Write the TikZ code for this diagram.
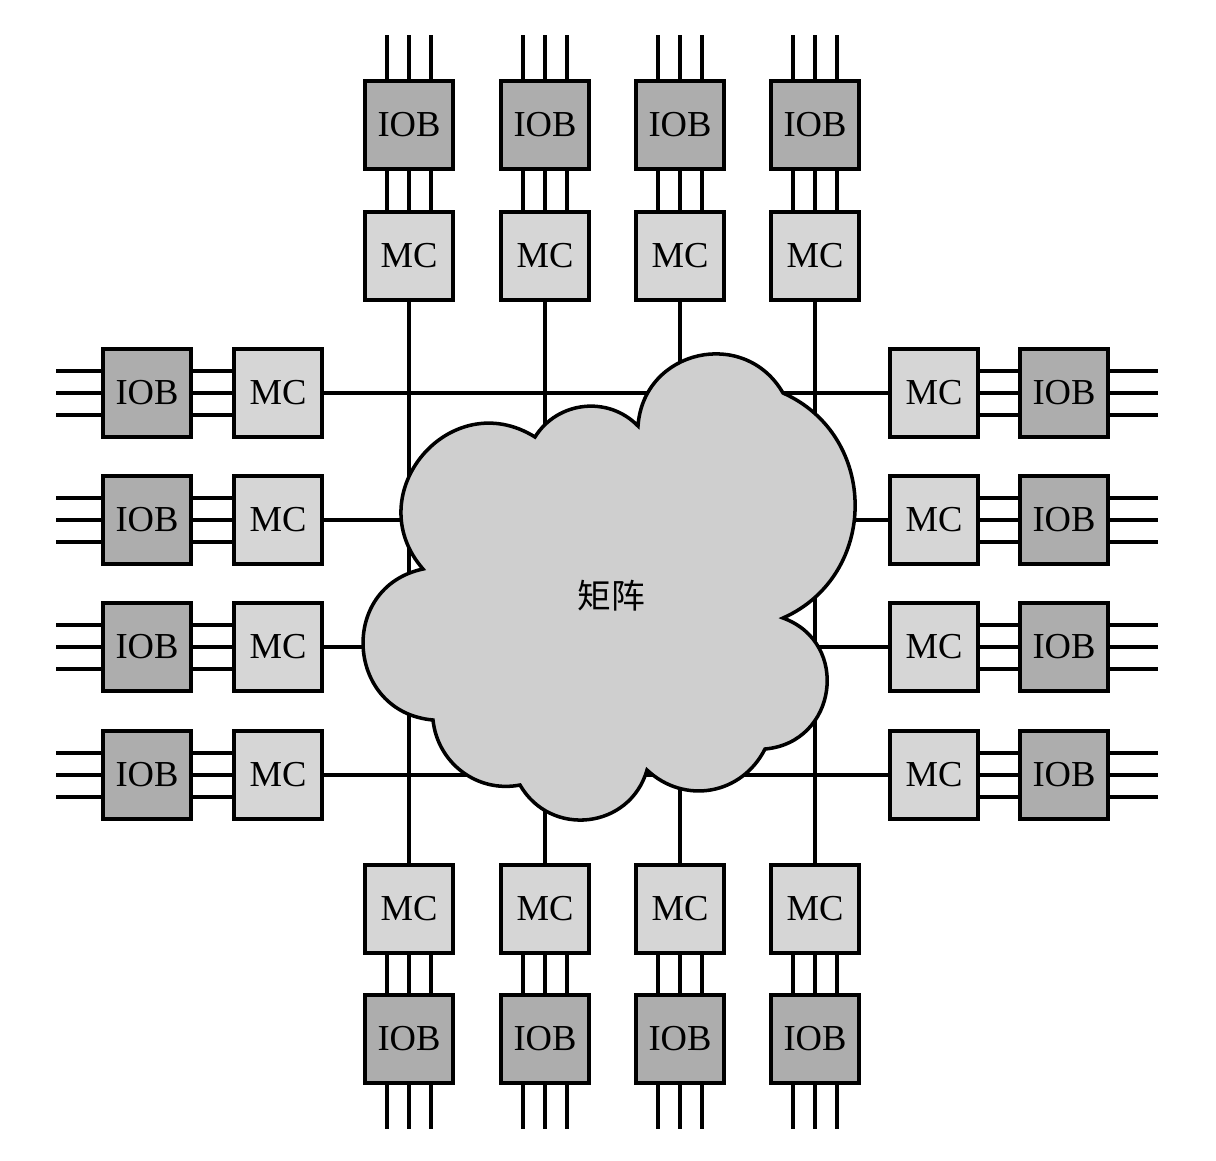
\documentclass[tikz,border=0pt]{standalone}
\usepackage{fontspec}
\setmainfont{Liberation Serif}
\newfontfamily\cjk{Noto Sans CJK SC}
\usetikzlibrary{positioning}
\usetikzlibrary{calc}

\definecolor{iobgray}{gray}{0.68}
\definecolor{mcgray}{gray}{0.84}
\definecolor{cloudgray}{gray}{0.81}

\tikzset{
  block/.style={draw, line width=2.8pt, minimum size=2.2cm, inner sep=0pt,
    font=\fontsize{26}{28}\selectfont},
  iob/.style={block, fill=iobgray},
  mc/.style={block, fill=mcgray},
  wire/.style={line width=2.2pt}
}

\begin{document}
\begin{tikzpicture}[x=0.025cm, y=-0.025cm]
        \useasboundingbox (0,0) rectangle (1216,1160);

        % Define the coordinates of the wire ends
        \coordinate (topend) at (0,35);
        \coordinate (botend) at (0,1129);
        \coordinate (leftend) at (56,0);
        \coordinate (rightend) at (1158,0);

        % Draw the blocks of the top and bottom columns
        \foreach \i/\x in {1/409, 2/545, 3/680, 4/815} {
          \node[iob] (ti\i) at (\x,125) {IOB};
          \node[mc] (tm\i) at (\x,256) {MC};
          \node[mc] (bm\i) at (\x,909) {MC};
          \node[iob] (bi\i) at (\x,1039) {IOB};
        }

        % Draw the blocks of the left and right rows
        \foreach \i/\y in {1/393, 2/520, 3/647, 4/775} {
          \node[iob] (li\i) at (147,\y) {IOB};
          \node[mc] (lm\i) at (278,\y) {MC};
          \node[mc] (rm\i) at (934,\y) {MC};
          \node[iob] (ri\i) at (1064,\y) {IOB};
        }

        % Draw the wires
        \foreach \i in {1,...,4} {
          \draw[wire] (tm\i) -- (bm\i);
          \draw[wire] (lm\i) -- (rm\i);
          \foreach \s in {-22,0,22} {
            \draw[wire] ([xshift=\s*0.025cm]ti\i.north) -- ([xshift=\s*0.025cm]ti\i.north |- topend);
            \draw[wire] ([xshift=\s*0.025cm]ti\i.south) -- ([xshift=\s*0.025cm]tm\i.north);
            \draw[wire] ([xshift=\s*0.025cm]bm\i.south) -- ([xshift=\s*0.025cm]bi\i.north);
            \draw[wire] ([xshift=\s*0.025cm]bi\i.south) -- ([xshift=\s*0.025cm]bi\i.south |- botend);
            \draw[wire] ([yshift=\s*0.025cm]li\i.west) -- ([yshift=\s*0.025cm]li\i.west -| leftend);
            \draw[wire] ([yshift=\s*0.025cm]li\i.east) -- ([yshift=\s*0.025cm]lm\i.west);
            \draw[wire] ([yshift=\s*0.025cm]rm\i.east) -- ([yshift=\s*0.025cm]ri\i.west);
            \draw[wire] ([yshift=\s*0.025cm]ri\i.east) -- ([yshift=\s*0.025cm]ri\i.east -| rightend);
          }
        }

        % Draw the cloud
        \draw[line width=2.5pt, fill=cloudgray]
          (423,569) to[out=131, in=148, looseness=1.47]
          (535,437) to[out=58, in=134, looseness=1.05]
          (638,426) to[out=86, in=120, looseness=1.32]
          (783,393) to[out=-24, in=24, looseness=1.20]
          (783,618) to[out=-20, in=5, looseness=1.40]
          (765,749) to[out=-117, in=-43, looseness=1.10]
          (647,770) to[out=-106, in=-60, looseness=1.23]
          (520,785) to[out=-169, in=-84, looseness=1.02]
          (433,720) to[out=175, in=-168, looseness=1.48] cycle;
        \node[font=\cjk\fontsize{24}{26}\selectfont] (matrix) at (611,596) {矩阵};
\end{tikzpicture}
\end{document}
